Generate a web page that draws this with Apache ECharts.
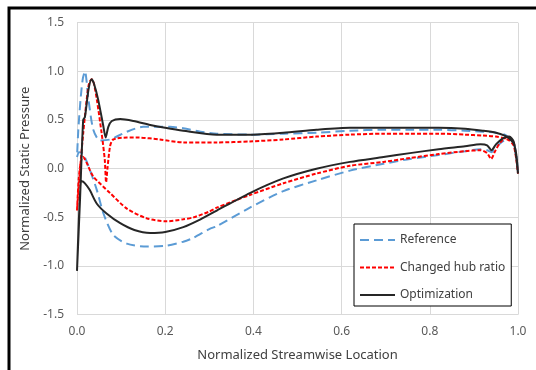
<!DOCTYPE html>
<html><head><meta charset="utf-8">
<script src="https://cdn.jsdelivr.net/npm/echarts@6/dist/echarts.min.js"></script>
<style>html,body{margin:0;padding:0;background:#fff}#c{width:536px;height:370px}</style>
</head><body><div id="c"></div>
<script>
// Reference (closed curve: LE -> lower surface -> TE -> upper surface -> LE)
const refX = [0.0,0.005,0.014,0.029,0.045,0.06,0.082,0.113,0.158,0.203,0.241,0.264,0.30,0.317,0.392,0.468,0.543,0.619,0.695,0.755,0.82,0.88,0.915,0.93,0.94,0.95,0.965,0.98,0.99,0.996,1.0,
  0.996,0.99,0.98,0.97,0.95,0.92,0.88,0.82,0.755,0.695,0.619,0.543,0.468,0.392,0.317,0.28,0.241,0.211,0.15,0.113,0.075,0.052,0.037,0.026,0.018,0.013,0.008,0.003,0.0];
const refY = [0.12,0.17,0.15,-0.01,-0.22,-0.46,-0.68,-0.77,-0.80,-0.79,-0.75,-0.71,-0.62,-0.59,-0.40,-0.23,-0.12,-0.02,0.05,0.10,0.14,0.18,0.20,0.19,0.17,0.22,0.28,0.31,0.26,0.12,-0.03,
  0.14,0.27,0.32,0.35,0.37,0.38,0.39,0.40,0.40,0.40,0.39,0.37,0.36,0.35,0.36,0.38,0.415,0.43,0.43,0.38,0.30,0.29,0.40,0.71,1.0,0.92,0.71,0.40,0.12];

// Changed hub ratio
const hubX = [0.0,0.004,0.009,0.014,0.022,0.037,0.075,0.113,0.158,0.203,0.241,0.264,0.30,0.317,0.392,0.468,0.543,0.619,0.695,0.755,0.82,0.88,0.915,0.93,0.939,0.948,0.96,0.978,0.99,0.996,1.0,
  0.996,0.99,0.98,0.97,0.95,0.92,0.88,0.82,0.755,0.695,0.619,0.543,0.468,0.392,0.317,0.241,0.188,0.14,0.113,0.082,0.075,0.069,0.066,0.063,0.056,0.045,0.038,0.033,0.027,0.022,0.014,0.007,0.0];
const hubY = [-0.43,-0.10,0.08,0.12,0.06,-0.08,-0.25,-0.41,-0.51,-0.54,-0.52,-0.50,-0.44,-0.40,-0.27,-0.15,-0.05,0.03,0.07,0.11,0.15,0.18,0.19,0.16,0.10,0.18,0.27,0.33,0.27,0.10,-0.05,
  0.10,0.24,0.29,0.31,0.33,0.34,0.35,0.36,0.36,0.36,0.35,0.33,0.30,0.28,0.27,0.27,0.30,0.32,0.32,0.30,0.23,0.0,-0.14,0.09,0.36,0.71,0.88,0.92,0.87,0.71,0.36,0.0,-0.43];

// Optimization
const optX = [0.0,0.004,0.008,0.011,0.018,0.029,0.045,0.067,0.098,0.13,0.166,0.2,0.241,0.28,0.317,0.392,0.468,0.543,0.619,0.695,0.755,0.82,0.88,0.915,0.93,0.94,0.95,0.965,0.98,0.99,0.996,1.0,
  0.996,0.99,0.98,0.97,0.95,0.92,0.88,0.82,0.755,0.695,0.619,0.543,0.468,0.392,0.317,0.241,0.2,0.166,0.128,0.098,0.079,0.071,0.065,0.06,0.048,0.038,0.033,0.026,0.018,0.014,0.007,0.0];
const optY = [-1.05,-0.55,-0.18,-0.13,-0.15,-0.22,-0.36,-0.46,-0.56,-0.63,-0.66,-0.65,-0.60,-0.52,-0.43,-0.25,-0.10,0.0,0.07,0.12,0.16,0.20,0.23,0.25,0.24,0.19,0.25,0.31,0.33,0.28,0.12,-0.05,
  0.15,0.26,0.31,0.34,0.37,0.39,0.41,0.42,0.42,0.42,0.42,0.40,0.37,0.35,0.35,0.39,0.42,0.45,0.49,0.51,0.49,0.43,0.32,0.43,0.71,0.88,0.92,0.81,0.53,0.50,-0.30,-1.05];

const xTicks = [0, 0.2, 0.4, 0.6, 0.8, 1.0];
const yTicks = [-1.5, -1.0, -0.5, 0.0, 0.5, 1.0, 1.5];
const seriesNames = ['Reference', 'Changed hub ratio', 'Optimization'];

const pairs = (xs, ys) => xs.map((x, i) => [x, ys[i]]);
const FONT = 'Noto Sans';
const chart = echarts.init(document.getElementById('c'), null, {renderer: 'canvas'});
chart.setOption({
  animation: false,
  backgroundColor: '#fff',
  textStyle: {fontFamily: FONT},
  graphic: [{type: 'rect', shape: {x: 9, y: 8, width: 700, height: 700}, style: {fill: 'none', stroke: '#000', lineWidth: 3}, silent: true}],
  grid: {left: 77, right: 18, top: 22.7, bottom: 55.3, containLabel: false},
  xAxis: {
    type: 'value', min: xTicks[0], max: xTicks[xTicks.length - 1], interval: 0.2,
    name: 'Normalized Streamwise Location', nameLocation: 'middle', nameGap: 34,
    nameTextStyle: {fontSize: 13, color: '#404040', fontFamily: FONT},
    axisLine: {show: false}, axisTick: {show: false},
    axisLabel: {color: '#595959', fontSize: 12, margin: 11, fontFamily: FONT, formatter: v => v.toFixed(1)},
    splitLine: {show: true, lineStyle: {color: '#d9d9d9', width: 1}}
  },
  yAxis: {
    type: 'value', min: yTicks[0], max: yTicks[yTicks.length - 1], interval: 0.5,
    name: 'Normalized Static Pressure', nameLocation: 'middle', nameGap: 44,
    nameTextStyle: {fontSize: 13, color: '#404040', fontFamily: FONT},
    axisLine: {show: false}, axisTick: {show: false},
    axisLabel: {color: '#595959', fontSize: 12, margin: 13, fontFamily: FONT, formatter: v => v.toFixed(1)},
    splitLine: {show: true, lineStyle: {color: '#d9d9d9', width: 1}}
  },
  legend: {
    orient: 'vertical', left: 354, top: 224,
    data: seriesNames,
    itemWidth: 35, itemHeight: 14, itemGap: 15.5,
    padding: [10, 6, 5, 5],
    borderColor: '#000', borderWidth: 1, backgroundColor: '#fff',
    itemStyle: {opacity: 0},
    textStyle: {fontSize: 12, color: '#404040', fontFamily: FONT}
  },
  series: [
    {name: seriesNames[0], type: 'line', data: pairs(refX, refY), symbol: 'none', smooth: 0.25,
     lineStyle: {color: '#5B9BD5', width: 2, type: [9, 5]}, itemStyle: {color: '#5B9BD5'}, z: 2},
    {name: seriesNames[1], type: 'line', data: pairs(hubX, hubY), symbol: 'none', smooth: 0.25,
     lineStyle: {color: '#FF0000', width: 2, type: [4, 2]}, itemStyle: {color: '#FF0000'}, z: 3},
    {name: seriesNames[2], type: 'line', data: pairs(optX, optY), symbol: 'none', smooth: 0.25,
     lineStyle: {color: '#262626', width: 2, type: 'solid'}, itemStyle: {color: '#262626'}, z: 4}
  ]
});
</script></body></html>
